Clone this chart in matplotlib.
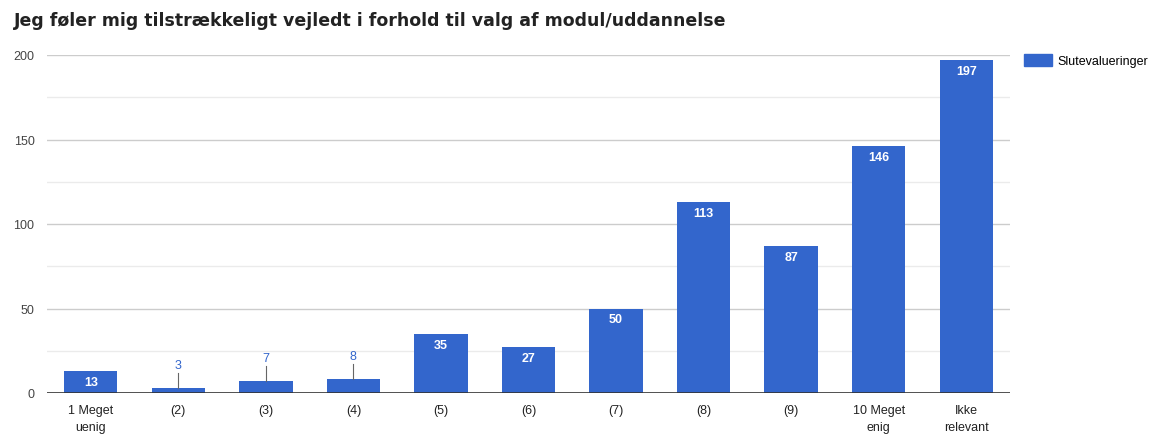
import matplotlib
matplotlib.use("Agg")
import matplotlib.pyplot as plt
from matplotlib.patches import Patch

categories = ["1 Meget\nuenig", "(2)", "(3)", "(4)", "(5)", "(6)", "(7)", "(8)", "(9)", "10 Meget\nenig", "Ikke\nrelevant"]
values = [13, 3, 7, 8, 35, 27, 50, 113, 87, 146, 197]
series_name = "Slutevalueringer"
title = "Jeg føler mig tilstrækkeligt vejledt i forhold til valg af modul/uddannelse"
yticks = [0, 50, 100, 150, 200]

blue = "#3366cc"
plt.rcParams['font.family'] = ['Liberation Sans', 'DejaVu Sans']

fig = plt.figure(figsize=(11.56, 4.35), dpi=100)
ax = fig.add_axes([47/1156, 1 - 394/435, (1010 - 47)/1156, (394 - 56)/435])

x = list(range(len(categories)))
ax.set_xlim(-0.5, len(categories) - 0.5)
ax.set_ylim(0, 200)
for y in range(25, 201, 25):
    ax.axhline(y, color="#cccccc" if y % 50 == 0 else "#ebebeb", lw=1, zorder=0)
ax.bar(x, values, width=0.61, color=blue, zorder=2)
ax.axhline(0, color="#333333", lw=1.2, zorder=3)

for xi, v in zip(x, values):
    if v >= 12:
        ax.text(xi, v - 2.8, str(v), ha="center", va="top", color="white",
                fontsize=9, fontweight="bold", zorder=4)
    else:
        top = v + 9
        ax.plot([xi, xi], [v, top], color="#666666", lw=0.8, zorder=3)
        ax.text(xi, top + 1.2, str(v), ha="center", va="bottom", color=blue,
                fontsize=9, zorder=4)

ax.set_yticks(yticks)
ax.set_yticklabels([str(t) for t in yticks], color="#444444", fontsize=9)
ax.set_xticks(x)
ax.set_xticklabels(categories, color="#222222", fontsize=9, linespacing=1.5)
ax.tick_params(length=0, pad=8)
ax.tick_params(axis="y", pad=9)
for s in ax.spines.values():
    s.set_visible(False)

fig.text(14/1156, 1 - 21/435, title, fontsize=12.5, fontweight="bold",
         family="DejaVu Sans", color="#222222", ha="left", va="center")

fig.legend(handles=[Patch(color=blue)], labels=[series_name],
           loc="upper left", bbox_to_anchor=(1021/1156, 1 - 52/435),
           frameon=False, fontsize=9, handlelength=2.3, handleheight=1.1,
           handletextpad=0.4, borderaxespad=0, borderpad=0.2)

fig.savefig("out.png", dpi=100)
